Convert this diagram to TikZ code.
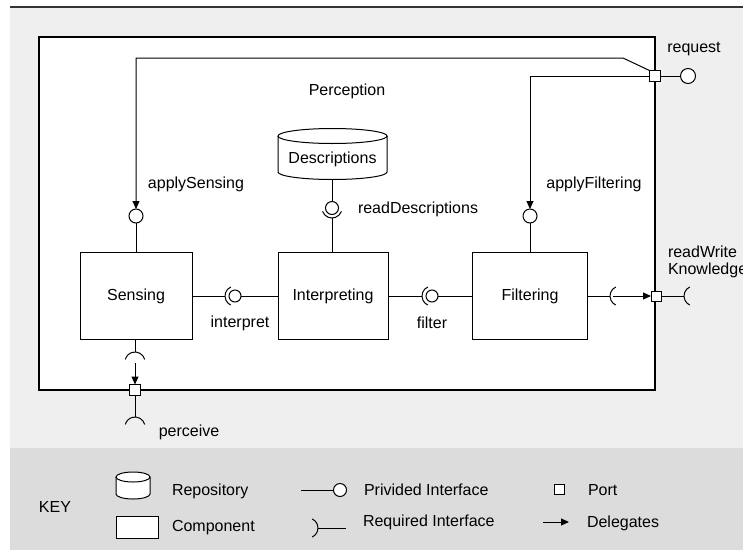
\documentclass[tikz,border=0pt]{standalone}
\usepackage{fontspec}
\setmainfont{Liberation Sans}
\usetikzlibrary{arrows.meta}
\definecolor{bgA}{HTML}{EFEFEF}
\definecolor{bgK}{HTML}{DCDCDC}
\definecolor{topline}{HTML}{333333}
\begin{document}
\begin{tikzpicture}[x=1pt,y=-1pt, line width=1pt,
  every node/.style={font=\fontsize{16}{17}\selectfont, inner sep=0pt, outer sep=0pt},
  comp/.style={draw, fill=white, minimum width=112pt, minimum height=87pt},
  portbox/.style={draw, fill=white, minimum size=10pt, inner sep=0pt},
  prov/.style={draw, fill=white, circle, minimum size=14pt, inner sep=0pt},
  deleg/.style={-{Triangle[length=8pt,width=7pt]}},
  keytext/.style={anchor=west}
]
\useasboundingbox (0,0) rectangle (743,552);
% backgrounds
\fill[white] (0,0) rectangle (743,552);
\fill[bgA] (10,7) rectangle (743,448);
\fill[bgK] (10,448) rectangle (743,550);
\draw[topline, line width=1.5pt] (10,7) -- (743,7);
% outer component
\draw[fill=white, line width=1.2pt] (39,37) rectangle (655,390);
\node (perc) at (347,91) {Perception};

% inner components
\node[comp] (sens) at (136,296) {Sensing};
\node[comp, minimum width=110pt] (interp) at (333,296) {Interpreting};
\node[comp, minimum width=115pt] (filt) at (530,296) {Filtering};

% repository
\draw[fill=white] (278,136) -- (278,172) arc[start angle=180,end angle=360,x radius=54.5pt,y radius=7.5pt] -- (387,136);
\draw[fill=white] (332.5,136) ellipse[x radius=54.5pt, y radius=7.5pt];
\node (desc) at (332.5,159) {Descriptions};
\coordinate (descBot) at (332,179.5);

% request port
\node[portbox, minimum size=11pt] (preq) at (655,76) {};
\node[prov, minimum size=15pt] (creq) at (688,76) {};
\draw (preq.east) -- (creq.west);
\node (lreq) at (694,49) {request};

% applySensing
\node[prov] (cSens) at (136,216) {};
\coordinate (bendA) at (623,58);
\draw[deleg] (preq.north west) -- (bendA) -- (cSens.north |- bendA) -- (cSens.north);
\draw (cSens.south) -- (sens.north);
\node (lSens) at (196,184) {applySensing};

% applyFiltering
\node[prov] (cFilt) at (530,216) {};
\draw[deleg] (preq.west) -- (cFilt.north |- preq.west) -- (cFilt.north);
\draw (cFilt.south) -- (filt.north);
\node (lFilt) at (594,184) {applyFiltering};

% readDescriptions
\node[prov, minimum size=13pt] (cDesc) at (332,208) {};
\draw (descBot) -- (cDesc.north);
\draw ([shift={(200:10pt)}]cDesc.center) arc[start angle=200,end angle=340,radius=10pt];
\draw ([yshift=-10pt]cDesc.center) -- (interp.north -| cDesc.center);
\node[anchor=west] (lDesc) at (358,209) {readDescriptions};

% interpret
\node[prov, minimum size=12pt] (cInt) at (235,296) {};
\draw ([shift={(115:10pt)}]cInt.center) arc[start angle=115,end angle=245,radius=10pt];
\draw (sens.east) -- ([xshift=-10pt]cInt.center);
\draw (cInt.east) -- (interp.west);
\node (lInt) at (240,323) {interpret};

% filter
\node[prov, minimum size=12pt] (cFil) at (432,296) {};
\draw ([shift={(115:10pt)}]cFil.center) arc[start angle=115,end angle=245,radius=10pt];
\draw (interp.east) -- ([xshift=-10pt]cFil.center);
\draw (cFil.east) -- (filt.west);
\node (lFil) at (432,323) {filter};

% readWrite Knowledge
\coordinate (sRW) at (620,296);
\node[portbox] (pRW) at (656,296) {};
\draw ([shift={(115:10pt)}]sRW) arc[start angle=115,end angle=245,radius=10pt];
\draw (filt.east) -- ([xshift=-10pt]sRW);
\draw[deleg] ([xshift=-7pt]sRW) -- (pRW.west);
\coordinate (sRWo) at (694,296);
\draw (pRW.east) -- ([xshift=-10pt]sRWo);
\draw ([shift={(115:10pt)}]sRWo) arc[start angle=115,end angle=245,radius=10pt];
\node[anchor=west, align=left] (lRW) at (668,262) {readWrite\\Knowledge};

% perceive
\coordinate (sPer1) at (135,362);
\node[portbox, minimum size=11pt] (pPer) at (135,390) {};
\draw (sens.south -| sPer1) -- ([yshift=10pt]sPer1);
\draw ([shift={(15:10pt)}]sPer1) arc[start angle=15,end angle=165,radius=10pt];
\draw[deleg] ([yshift=-1pt]sPer1) -- (pPer.north);
\coordinate (sPer2) at (135,427);
\draw (pPer.south) -- ([yshift=10pt]sPer2);
\draw ([shift={(15:10pt)}]sPer2) arc[start angle=15,end angle=165,radius=10pt];
\node (lPer) at (189,432) {perceive};

% KEY
\node (key) at (55,507) {KEY};
\draw[fill=white] (116,477) -- (116,494) arc[start angle=180,end angle=360,x radius=17pt,y radius=5pt] -- (150,477);
\draw[fill=white] (133,477) ellipse[x radius=17pt, y radius=5pt];
\node[keytext] (kRep) at (172,491) {Repository};
\node[draw, fill=white, minimum width=42pt, minimum height=22pt] (kComp) at (137,527) {};
\node[keytext] (kCompT) at (172,528) {Component};
\node[prov, minimum size=13pt] (kProv) at (340,490) {};
\coordinate (kProvL) at (301,490);
\draw (kProvL) -- (kProv.west);
\node[keytext] (kProvT) at (364,490) {Privided Interface};
\coordinate (kReq) at (308,528);
\draw ([shift={(-65:10pt)}]kReq) arc[start angle=-65,end angle=65,radius=10pt];
\coordinate (kReqR) at (346,528);
\draw ([xshift=10pt]kReq) -- (kReqR);
\node[keytext] (kReqT) at (363,522) {Required Interface};
\node[portbox] (kPort) at (559,489) {};
\node[keytext] (kPortT) at (588,490) {Port};
\coordinate (kDa) at (543,522);
\coordinate (kDb) at (569,522);
\draw[deleg] (kDa) -- (kDb);
\node[keytext] (kDelT) at (587,523) {Delegates};
\end{tikzpicture}
\end{document}
